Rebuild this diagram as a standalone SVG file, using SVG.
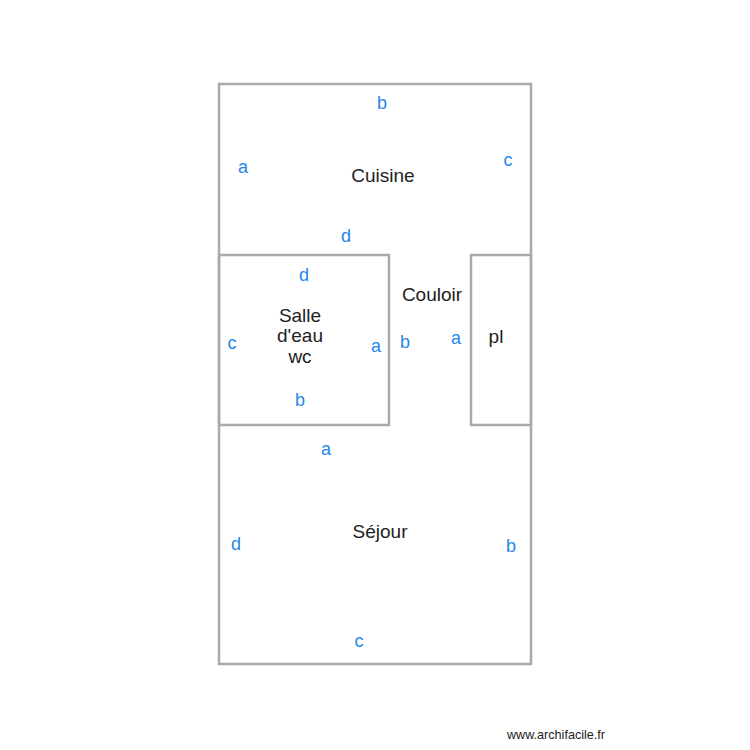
<svg xmlns="http://www.w3.org/2000/svg" width="750" height="750" viewBox="0 0 750 750">
<style>
.w{fill:none;stroke:#aaaaaa;stroke-width:2.5}
.n{font-family:"Liberation Sans",Arial,sans-serif;font-size:19px;fill:#222222;text-anchor:middle}
.l{font-family:"Liberation Sans",Arial,sans-serif;font-size:18px;fill:#1e88e5;text-anchor:middle}
.f{font-family:"Liberation Sans",Arial,sans-serif;font-size:12.6px;fill:#222222;text-anchor:middle}
</style>
<rect width="750" height="750" fill="#ffffff"/>
<g id="cuisine">
<path class="w" d="M219,255 V84 H531 V255"/>
<text class="n" x="383" y="182">Cuisine</text>
<text class="l" x="382" y="109">b</text>
<text class="l" x="243" y="173">a</text>
<text class="l" x="508" y="166">c</text>
<text class="l" x="346" y="242">d</text>
</g>
<g id="salle">
<rect class="w" x="219" y="255" width="170" height="170"/>
<text class="n" x="300" y="322">Salle</text>
<text class="n" x="300" y="342">d'eau</text>
<text class="n" x="300" y="363">wc</text>
<text class="l" x="304" y="281">d</text>
<text class="l" x="232" y="349">c</text>
<text class="l" x="376" y="352">a</text>
<text class="l" x="300" y="406">b</text>
</g>
<g id="couloir">
<text class="n" x="432" y="301">Couloir</text>
<text class="l" x="405" y="348">b</text>
<text class="l" x="456" y="344">a</text>
</g>
<g id="pl">
<rect class="w" x="471" y="255" width="60" height="170"/>
<text class="n" x="496" y="343">pl</text>
</g>
<g id="sejour">
<path class="w" d="M219,425 V664 H531 V425"/>
<path class="w" d="M219,255 V425 M531,255 V425"/>
<text class="n" x="380" y="538">Séjour</text>
<text class="l" x="326" y="455">a</text>
<text class="l" x="236" y="550">d</text>
<text class="l" x="511" y="552">b</text>
<text class="l" x="359" y="647">c</text>
</g>
<text class="f" x="556" y="739">www.archifacile.fr</text>
</svg>
